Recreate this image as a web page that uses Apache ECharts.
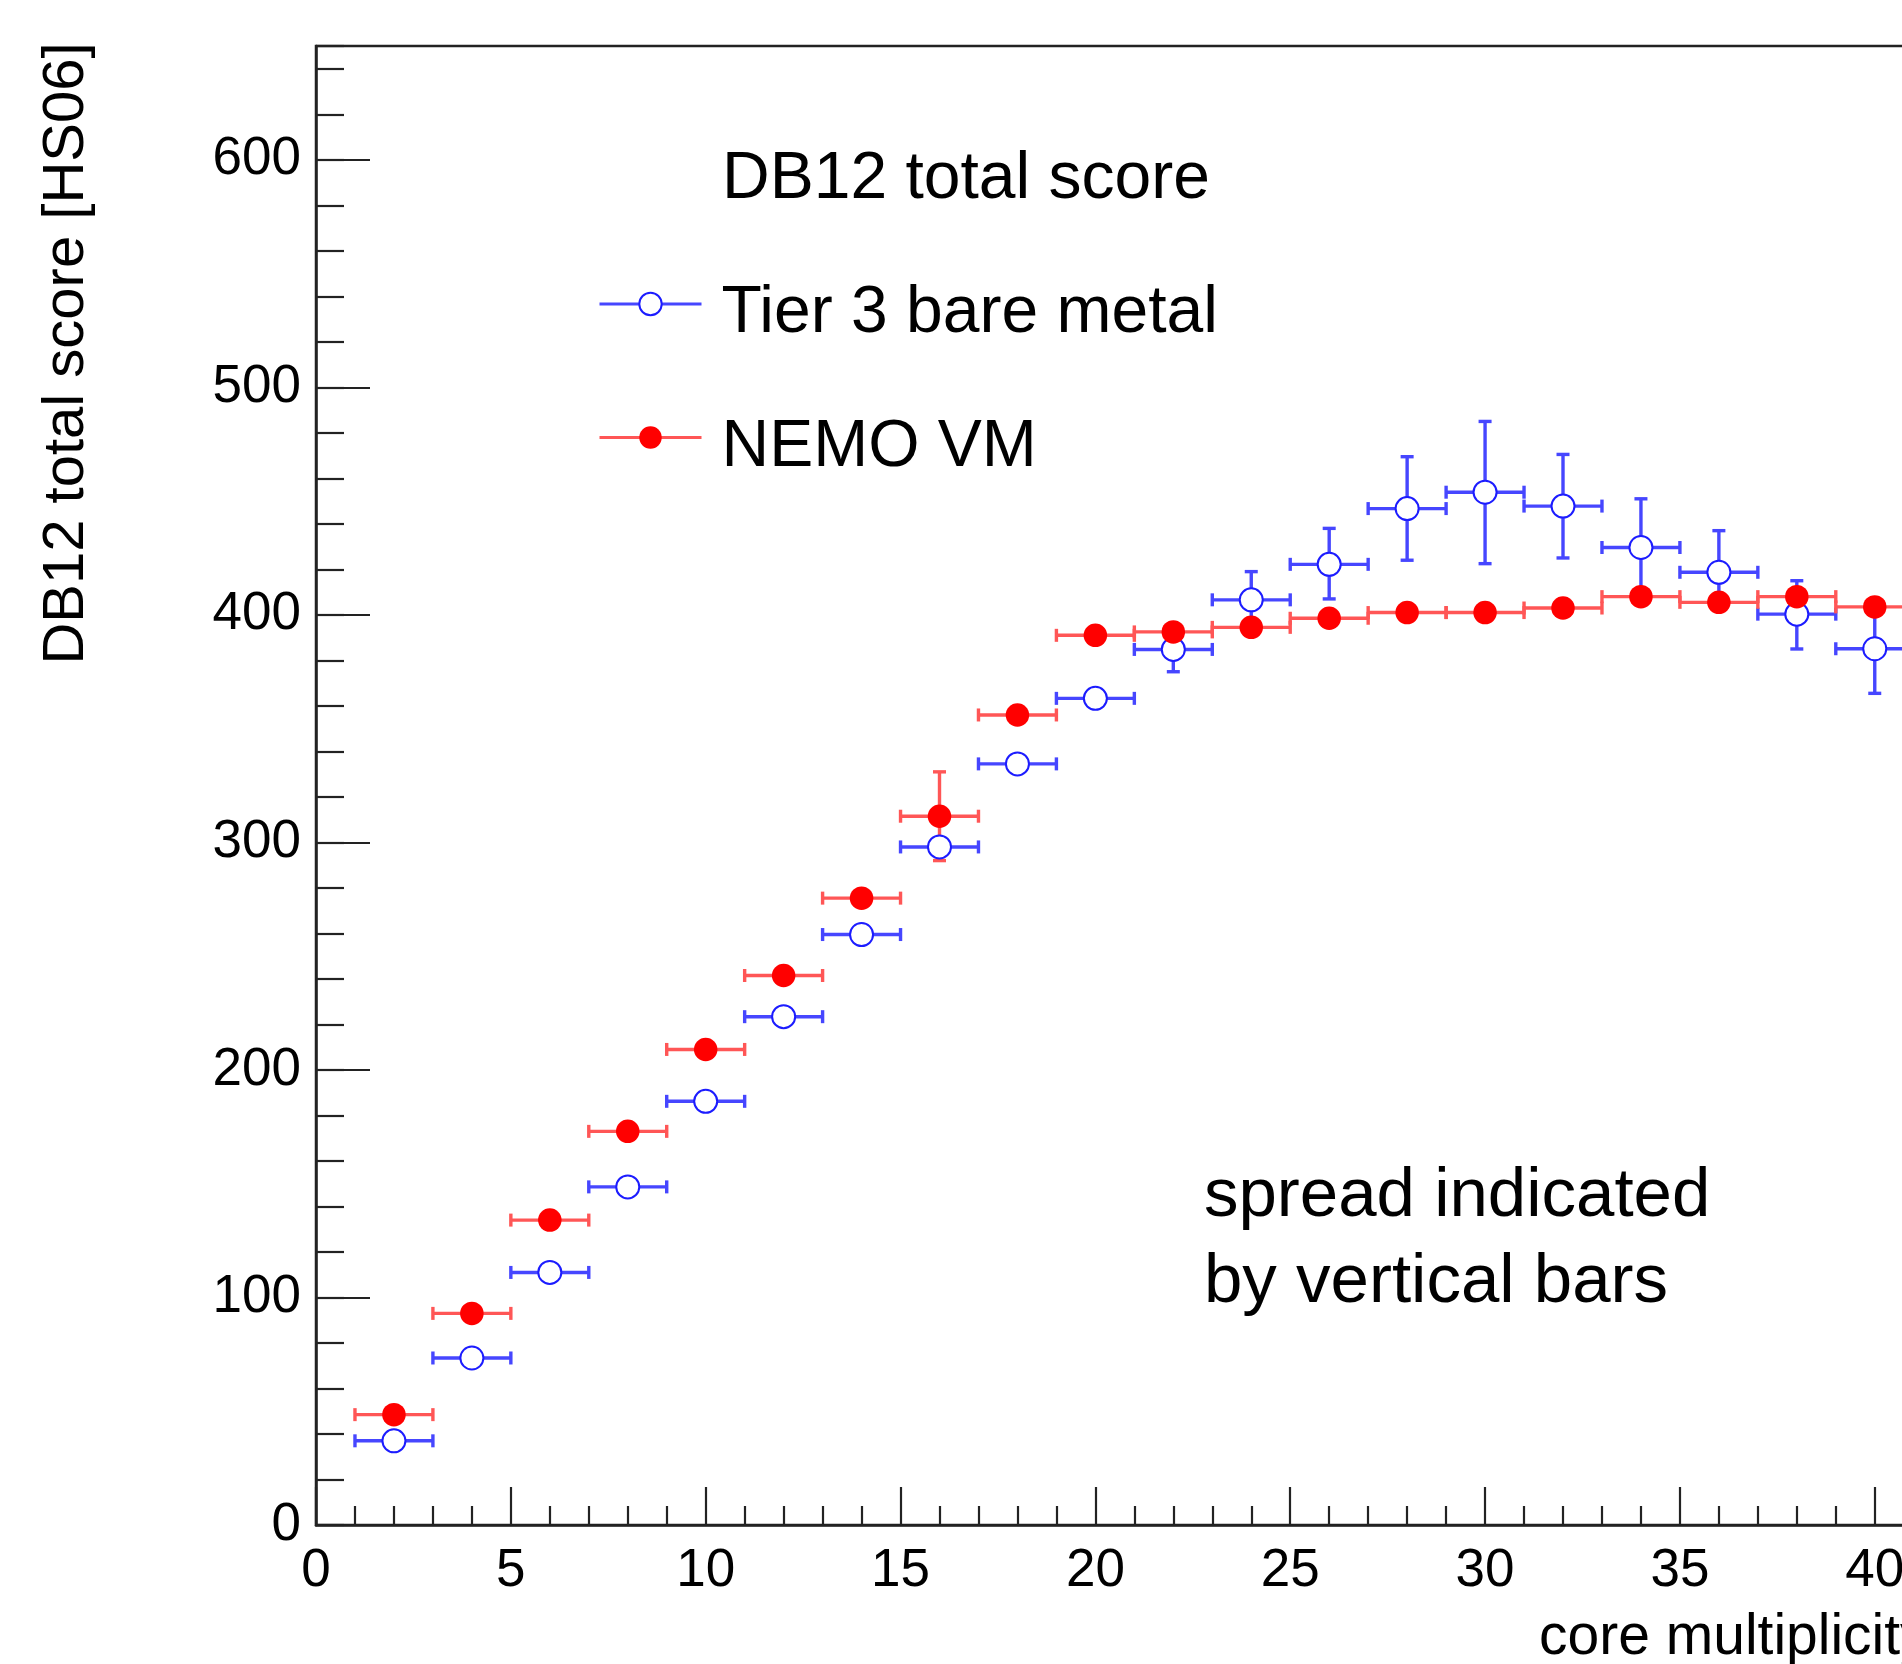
<!DOCTYPE html>
<html>
<head>
<meta charset="utf-8">
<script src="https://cdn.jsdelivr.net/npm/echarts@6/dist/echarts.min.js"></script>
<style>
  html, body { margin: 0; padding: 0; background: #fff; overflow: hidden; }
  #main { width: 1902px; height: 1664px; }
</style>
</head>
<body>
<div id="main"></div>
<script>
// ---- data ----
const coreMultiplicity = [2, 4, 6, 8, 10, 12, 14, 16, 18, 20, 22, 24, 26, 28, 30, 32, 34, 36, 38, 40];
const tier3Score = [37, 73.4, 111, 148.6, 186.2, 223.4, 259.5, 298, 334.5, 363.3, 384.8, 406.6, 422.2, 446.7, 453.9, 447.8, 429.6, 418.7, 400.3, 385.1];
const tier3Low   = [null, null, null, null, null, null, null, null, null, null, 375, 397, 407, 424, 422.5, 425, 408, 403, 385, 365.5];
const tier3High  = [null, null, null, null, null, null, null, null, null, null, 394, 419, 438, 469.5, 485, 470.5, 451, 437, 415, 401];
const nemoScore  = [48.5, 93, 134, 173, 209, 241.5, 275.5, 311.5, 356, 391, 392.5, 394.5, 398.5, 401, 401, 403, 408, 405.5, 408, 403.5];
const nemoLow    = [null, null, null, null, null, null, null, 292, null, null, null, null, null, null, null, null, null, null, null, null];
const nemoHigh   = [null, null, null, null, null, null, null, 331, null, null, null, null, null, null, null, null, null, null, null, null];
const binHalfWidth = 1;
const xTitle = 'core multiplicity';
const yTitle = 'DB12 total score [HS06]';
const legendHeader = 'DB12 total score';
const seriesNames = ['Tier 3 bare metal', 'NEMO VM'];
const note = 'spread indicated\nby vertical bars';

const FONT = '"Liberation Sans", Arial, Helvetica, sans-serif';
const AXIS = '#222';
const BLUE = '#1c1cff', BLUE_BAR = '#4646ff';
const RED = '#ff0000', RED_BAR = '#ff5656';

function errData(vals, lo, hi) {
  return coreMultiplicity.map((x, i) => [x, vals[i], x - binHalfWidth, x + binHalfWidth,
    lo[i] == null ? NaN : lo[i], hi[i] == null ? NaN : hi[i]]);
}
function errRender(color) {
  return function (params, api) {
    const y = api.value(1);
    const x = api.value(0);
    const pl = api.coord([api.value(2), y]);
    const pr = api.coord([api.value(3), y]);
    const cap = 6.5;
    const style = { stroke: color, lineWidth: 3.4 };
    const ch = [
      { type: 'line', shape: { x1: pl[0], y1: pl[1], x2: pr[0], y2: pr[1] }, style },
      { type: 'line', shape: { x1: pl[0], y1: pl[1] - cap, x2: pl[0], y2: pl[1] + cap }, style },
      { type: 'line', shape: { x1: pr[0], y1: pr[1] - cap, x2: pr[0], y2: pr[1] + cap }, style }
    ];
    const ylo = api.value(4), yhi = api.value(5);
    if (isFinite(ylo) && isFinite(yhi)) {
      const pb = api.coord([x, ylo]);
      const pt = api.coord([x, yhi]);
      ch.push({ type: 'line', shape: { x1: pb[0], y1: pb[1], x2: pt[0], y2: pt[1] }, style });
      ch.push({ type: 'line', shape: { x1: pb[0] - cap, y1: pb[1], x2: pb[0] + cap, y2: pb[1] }, style });
      ch.push({ type: 'line', shape: { x1: pt[0] - cap, y1: pt[1], x2: pt[0] + cap, y2: pt[1] }, style });
    }
    return { type: 'group', children: ch };
  };
}

const chart = echarts.init(document.getElementById('main'), null, { renderer: 'canvas' });
const gridBox = { left: 316, right: -167.6, top: 46, bottom: 139, outerBoundsMode: 'none' };

chart.setOption({
  backgroundColor: '#fff',
  animation: false,
  grid: [
    Object.assign({ show: true, borderColor: AXIS, borderWidth: 2.5, backgroundColor: 'transparent' }, gridBox),
    Object.assign({ show: false }, gridBox)
  ],
  xAxis: [{
    type: 'value', gridIndex: 0, min: 0, max: 45, interval: 5,
    axisLine: { show: true, onZero: false, lineStyle: { color: AXIS, width: 2.5 } },
    axisTick: { show: true, inside: true, length: 38, lineStyle: { color: AXIS, width: 2.2 } },
    minorTick: { show: true, splitNumber: 5, length: 19, lineStyle: { color: AXIS, width: 2.2 } },
    axisLabel: { show: true, margin: 20, color: '#000', fontSize: 53, fontFamily: FONT },
    splitLine: { show: false }, minorSplitLine: { show: false }
  }, {
    type: 'value', gridIndex: 1, min: 0, max: 45, show: false
  }],
  yAxis: [{
    type: 'value', gridIndex: 0, min: 0, max: 650, interval: 100,
    axisLine: { show: true, onZero: false, lineStyle: { color: AXIS, width: 2.5 } },
    axisTick: { show: true, inside: true, length: 54, lineStyle: { color: AXIS, width: 2.2 } },
    axisLabel: { show: true, margin: 15, color: '#000', fontSize: 53, fontFamily: FONT, showMaxLabel: false, padding: [8, 0, 0, 0] },
    splitLine: { show: false }
  }, {
    type: 'value', gridIndex: 1, min: 0, max: 650, interval: 20,
    axisLine: { show: false },
    axisTick: { show: true, inside: true, length: 28, lineStyle: { color: AXIS, width: 2.2 } },
    axisLabel: { show: false },
    splitLine: { show: false }
  }],
  legend: {
    orient: 'vertical', left: 598, top: 281, padding: 0,
    itemWidth: 102, itemHeight: 28, itemGap: 67.5,
    selectedMode: false,
    itemStyle: { opacity: 1 },
    lineStyle: { width: 3, opacity: 1 },
    formatter: '{t|{name}}',
    textStyle: {
      fontSize: 66, fontFamily: FONT, color: '#000',
      rich: { t: { fontSize: 66, fontFamily: FONT, color: '#000', padding: [20, 0, 0, 15] } }
    },
    data: [
      { name: seriesNames[0], lineStyle: { color: BLUE_BAR, width: 3, opacity: 1 }, itemStyle: { opacity: 1 } },
      { name: seriesNames[1], lineStyle: { color: RED_BAR, width: 3, opacity: 1 }, itemStyle: { opacity: 1 } }
    ]
  },
  graphic: [
    { type: 'text', x: 67, y: 353.5, rotation: Math.PI / 2, silent: true,
      style: { text: yTitle, font: '58px ' + FONT, fill: '#000', align: 'center', verticalAlign: 'middle' } },
    { type: 'text', x: 1539, y: 1638, silent: true,
      style: { text: xTitle, font: '57px ' + FONT, fill: '#000', align: 'left', verticalAlign: 'middle' } },
    { type: 'text', x: 722, y: 179.5, silent: true,
      style: { text: legendHeader, font: '66px ' + FONT, fill: '#000', align: 'left', verticalAlign: 'middle' } },
    { type: 'text', x: 1204, y: 1153.6, silent: true,
      style: { text: note, font: '69px ' + FONT, lineHeight: 86, fill: '#000', align: 'left', verticalAlign: 'top' } }
  ],
  series: [
    { name: 'Tier 3 spread', type: 'custom', xAxisIndex: 0, yAxisIndex: 0,
      renderItem: errRender(BLUE_BAR), data: errData(tier3Score, tier3Low, tier3High),
      encode: { x: 0, y: 1 }, silent: true },
    { name: seriesNames[0], type: 'line', xAxisIndex: 0, yAxisIndex: 0,
      data: coreMultiplicity.map((x, i) => [x, tier3Score[i]]),
      color: BLUE, symbol: 'emptyCircle', symbolSize: 23, showSymbol: true,
      itemStyle: { color: BLUE, borderColor: BLUE, borderWidth: 3.3 },
      lineStyle: { opacity: 0 }, silent: true },
    { name: 'NEMO spread', type: 'custom', xAxisIndex: 0, yAxisIndex: 0,
      renderItem: errRender(RED_BAR), data: errData(nemoScore, nemoLow, nemoHigh),
      encode: { x: 0, y: 1 }, silent: true },
    { name: seriesNames[1], type: 'line', xAxisIndex: 0, yAxisIndex: 0,
      data: coreMultiplicity.map((x, i) => [x, nemoScore[i]]),
      color: RED, symbol: 'circle', symbolSize: 23.5, showSymbol: true,
      itemStyle: { color: RED },
      lineStyle: { opacity: 0 }, silent: true }
  ]
});
</script>
</body>
</html>
